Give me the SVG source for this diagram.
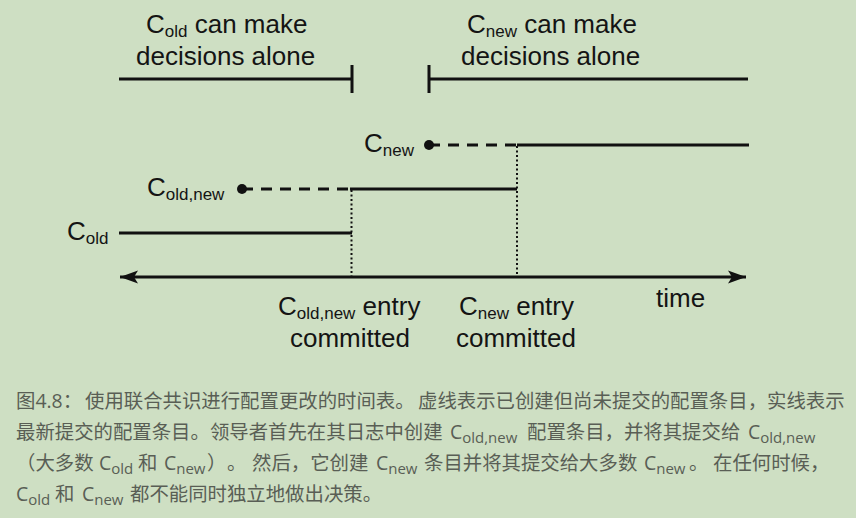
<svg xmlns="http://www.w3.org/2000/svg" width="856" height="518" viewBox="0 0 856 518">
<style>
.lbl{font-family:"Liberation Sans",Arial,sans-serif;font-size:26px;fill:#141414}
.sub{font-size:17px}
.cap{font-family:"Open Sans","Noto Sans CJK SC",sans-serif;font-size:19.4px;fill:#595e55}
.csub{font-size:15px}
.solid{stroke:#111;stroke-width:3;fill:none}
.dash{stroke:#111;stroke-width:3;fill:none;stroke-dasharray:11 8}
.dot{stroke:#111;stroke-width:2;fill:none;stroke-dasharray:2 2.5}
</style>
<defs>
<marker id="ah" markerUnits="userSpaceOnUse" markerWidth="20" markerHeight="16" viewBox="0 0 20 16" refX="18" refY="8" orient="auto-start-reverse">
<path d="M0,1.5 L18,8 L0,14.5 L4,8 Z" fill="#111"/>
</marker>
</defs>
<rect width="856" height="518" fill="#cedfc3"/>
<g id="connectors">
<path class="solid" d="M119,79 H352 M352,65 V93"/>
<path class="solid" d="M429,79 H748 M429,65 V93"/>
<path class="dash" d="M429,145 H517"/>
<path class="solid" d="M517,145 H749"/>
<path class="dash" d="M242,189 H350"/>
<path class="solid" d="M350,189 H517"/>
<path class="solid" d="M119,233 H352"/>
<path class="dot" d="M351.5,190 V277"/>
<path class="dot" d="M517,146 V277"/>
<path class="solid" d="M120,277 H746" marker-start="url(#ah)" marker-end="url(#ah)"/>
<circle cx="429" cy="145" r="5" fill="#111"/>
<circle cx="242" cy="189" r="5" fill="#111"/>
</g>
<g id="cold-alone"><text class="lbl" x="146" y="33">C<tspan class="sub" dy="4">old</tspan><tspan dy="-4"> can make</tspan></text><text class="lbl" x="136" y="65">decisions alone</text></g>
<g id="cnew-alone"><text class="lbl" x="467" y="33">C<tspan class="sub" dy="4">new</tspan><tspan dy="-4"> can make</tspan></text><text class="lbl" x="461" y="65">decisions alone</text></g>
<g id="cnew-label"><text class="lbl" x="364" y="152">C<tspan class="sub" dy="4">new</tspan></text></g>
<g id="coldnew-label"><text class="lbl" x="147" y="196">C<tspan class="sub" dy="4">old,new</tspan></text></g>
<g id="cold-label"><text class="lbl" x="67" y="240">C<tspan class="sub" dy="4">old</tspan></text></g>
<g id="coldnew-committed"><text class="lbl" x="278" y="315">C<tspan class="sub" dy="4">old,new</tspan><tspan dy="-4"> entry</tspan></text><text class="lbl" x="290" y="347">committed</text></g>
<g id="cnew-committed"><text class="lbl" x="459" y="315">C<tspan class="sub" dy="4">new</tspan><tspan dy="-4"> entry</tspan></text><text class="lbl" x="456" y="347">committed</text></g>
<g id="time-label"><text class="lbl" x="656" y="307">time</text></g>
<g id="caption">
<text class="cap" y="408"><tspan x="16">图4.8：</tspan><tspan x="85">使用联合共识进行配置更改的时间表。</tspan><tspan x="418">虚线表示已创建但尚未提交的配置条目，实线表示</tspan></text>
<text class="cap" y="439"><tspan x="16">最新提交的配置条目。领导者首先在其日志中创建</tspan><tspan x="450">C</tspan><tspan class="csub" dy="4">old,new</tspan><tspan x="527" dy="-4">配置条目，并将其提交给</tspan><tspan x="748">C</tspan><tspan class="csub" dy="4">old,new</tspan></text>
<text class="cap" y="470"><tspan x="16">（大多数</tspan><tspan x="99">C</tspan><tspan class="csub" dy="4">old</tspan><tspan x="138" dy="-4">和</tspan><tspan x="164">C</tspan><tspan class="csub" dy="4">new</tspan><tspan x="207" dy="-4">）</tspan><tspan x="227">。</tspan><tspan x="252">然后，它创建</tspan><tspan x="376">C</tspan><tspan class="csub" dy="4">new</tspan><tspan x="424" dy="-4">条目并将其提交给大多数</tspan><tspan x="644">C</tspan><tspan class="csub" dy="4">new</tspan><tspan x="689" dy="-4">。</tspan><tspan x="713">在任何时候，</tspan></text>
<text class="cap" y="501"><tspan x="16">C</tspan><tspan class="csub" dy="4">old</tspan><tspan x="55" dy="-4">和</tspan><tspan x="82">C</tspan><tspan class="csub" dy="4">new</tspan><tspan x="130" dy="-4">都不能同时独立地做出决策。</tspan></text>
</g>
</svg>
